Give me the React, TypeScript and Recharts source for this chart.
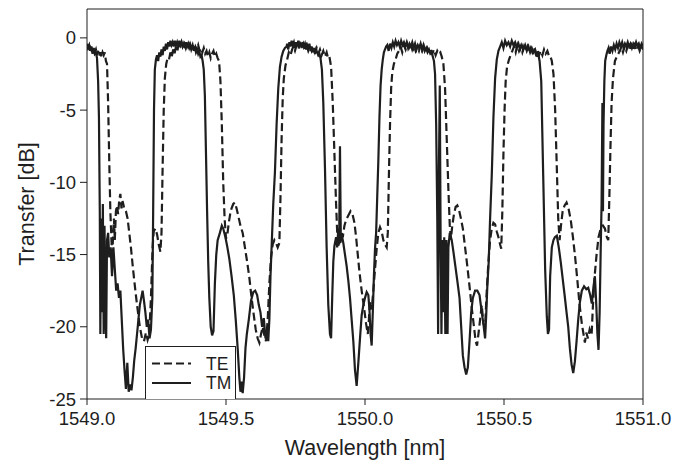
import { LineChart, Line, XAxis, YAxis, ReferenceLine, Legend } from 'recharts'

const X_TICKS = [1549, 1549.5, 1550, 1550.5, 1551]
const Y_TICKS = [0, -5, -10, -15, -20, -25]

// [wavelength nm, transfer dB]
const TE: [number, number][] = [
  [1549.000, -0.5], [1549.004, -0.8], [1549.008, -0.4], [1549.012, -0.9], [1549.016, -0.6], [1549.020, -1.1],
  [1549.024, -0.7], [1549.028, -1.0], [1549.032, -0.8], [1549.036, -1.2], [1549.040, -0.9], [1549.044, -1.3],
  [1549.048, -1.0], [1549.052, -1.3], [1549.056, -1.0], [1549.060, -1.2], [1549.064, -1.0], [1549.068, -1.6],
  [1549.072, -1.8], [1549.076, -4.5], [1549.080, -8.5], [1549.084, -12], [1549.088, -14.0], [1549.091, -15.3],
  [1549.094, -13.5], [1549.097, -12.5], [1549.100, -14.0], [1549.104, -12.0], [1549.108, -11.6], [1549.112, -12.2],
  [1549.116, -11.2], [1549.120, -10.8], [1549.124, -11.8], [1549.128, -11.3], [1549.134, -11.8], [1549.140, -12.0],
  [1549.146, -12.5], [1549.152, -13.5], [1549.158, -14.5], [1549.164, -15.7], [1549.170, -16.8], [1549.180, -18.5],
  [1549.190, -20.0], [1549.198, -20.8], [1549.205, -21.0], [1549.212, -20.4], [1549.218, -20.9], [1549.224, -20.5],
  [1549.230, -18], [1549.236, -14.5], [1549.240, -13.4], [1549.246, -13.2], [1549.252, -13.6], [1549.258, -14.3],
  [1549.264, -14.8], [1549.268, -13.5], [1549.272, -9], [1549.276, -5], [1549.280, -2.8], [1549.285, -1.8],
  [1549.290, -1.4], [1549.295, -1.5], [1549.300, -1.0], [1549.305, -1.3], [1549.310, -0.8], [1549.315, -1.1],
  [1549.320, -0.6], [1549.325, -0.9], [1549.330, -0.4], [1549.335, -0.7], [1549.340, -0.3], [1549.345, -0.6],
  [1549.350, -0.4], [1549.355, -0.7], [1549.360, -0.3], [1549.365, -0.6], [1549.370, -0.4], [1549.375, -0.8],
  [1549.380, -0.5], [1549.385, -0.9], [1549.390, -0.6], [1549.395, -0.8], [1549.400, -0.5], [1549.405, -0.9],
  [1549.410, -0.7], [1549.415, -1.0], [1549.420, -0.7], [1549.425, -1.1], [1549.430, -0.9], [1549.435, -1.3],
  [1549.440, -1.0], [1549.445, -1.4], [1549.450, -1.1], [1549.455, -0.9], [1549.460, -1.3], [1549.465, -1.1],
  [1549.470, -1.4], [1549.475, -1.6], [1549.480, -3.0], [1549.485, -6], [1549.490, -10], [1549.495, -12.5],
  [1549.500, -13.9], [1549.505, -13.6], [1549.510, -12.8], [1549.515, -12.2], [1549.520, -11.8], [1549.526, -11.5],
  [1549.532, -11.4], [1549.538, -11.8], [1549.545, -12.4], [1549.552, -13.0], [1549.560, -13.5], [1549.568, -14.5],
  [1549.576, -15.5], [1549.584, -16.6], [1549.592, -18.0], [1549.600, -19.2], [1549.607, -20.2], [1549.614, -20.8],
  [1549.620, -21.1], [1549.626, -20.5], [1549.632, -20.0], [1549.638, -20.6], [1549.644, -21.0], [1549.650, -19.5],
  [1549.656, -17.0], [1549.662, -15.2], [1549.668, -14.3], [1549.674, -14.0], [1549.680, -14.2], [1549.686, -14.5],
  [1549.692, -14.2], [1549.696, -11], [1549.700, -7], [1549.704, -4.2], [1549.708, -2.8], [1549.714, -1.9],
  [1549.720, -1.5], [1549.726, -1.0], [1549.732, -1.2], [1549.738, -0.8], [1549.742, -0.6], [1549.748, -0.9],
  [1549.754, -0.5], [1549.760, -0.8], [1549.766, -0.4], [1549.772, -0.7], [1549.778, -0.4], [1549.784, -0.8],
  [1549.790, -0.5], [1549.796, -0.9], [1549.802, -0.6], [1549.808, -0.9], [1549.814, -0.6], [1549.820, -1.0],
  [1549.826, -0.7], [1549.832, -1.1], [1549.838, -0.8], [1549.844, -1.2], [1549.850, -0.9], [1549.856, -1.3],
  [1549.862, -1.0], [1549.867, -1.4], [1549.872, -1.3], [1549.878, -2.0], [1549.884, -4.5], [1549.890, -8],
  [1549.896, -11.5], [1549.900, -13.5], [1549.904, -14.5], [1549.908, -13.2], [1549.912, -14.3], [1549.916, -13.4],
  [1549.920, -13.8], [1549.926, -13.0], [1549.932, -12.6], [1549.940, -12.3], [1549.948, -12.0], [1549.955, -12.2],
  [1549.962, -12.8], [1549.968, -13.8], [1549.974, -15.0], [1549.980, -16.2], [1549.988, -17.5], [1549.996, -18.6],
  [1550.004, -19.8], [1550.010, -20.5], [1550.014, -19.5], [1550.018, -18.2], [1550.024, -18.8], [1550.030, -17.5],
  [1550.036, -16.0], [1550.042, -14.6], [1550.048, -13.5], [1550.054, -13.1], [1550.060, -13.4], [1550.066, -14.0],
  [1550.072, -14.3], [1550.078, -14.5], [1550.082, -13.5], [1550.086, -9.5], [1550.090, -6.0], [1550.094, -3.5],
  [1550.098, -2.4], [1550.104, -1.8], [1550.110, -1.5], [1550.116, -1.1], [1550.122, -0.9], [1550.128, -0.6],
  [1550.134, -1.0], [1550.140, -0.5], [1550.146, -0.8], [1550.152, -0.4], [1550.158, -0.7], [1550.164, -0.4],
  [1550.170, -0.8], [1550.176, -0.5], [1550.182, -0.9], [1550.188, -0.6], [1550.194, -0.9], [1550.200, -0.5],
  [1550.206, -0.9], [1550.212, -0.6], [1550.218, -1.0], [1550.224, -0.7], [1550.230, -1.0], [1550.236, -0.8],
  [1550.242, -1.1], [1550.248, -0.8], [1550.254, -1.2], [1550.260, -0.9], [1550.266, -1.1], [1550.271, -1.0],
  [1550.276, -1.3], [1550.282, -1.8], [1550.288, -3.5], [1550.294, -7], [1550.300, -10.5], [1550.305, -13.0],
  [1550.309, -13.9], [1550.314, -13.0], [1550.320, -12.2], [1550.326, -11.7], [1550.332, -11.6], [1550.338, -11.9],
  [1550.345, -12.5], [1550.352, -13.2], [1550.360, -14.5], [1550.368, -15.8], [1550.376, -17.2], [1550.384, -18.7],
  [1550.392, -20.0], [1550.398, -21.0], [1550.403, -21.3], [1550.408, -20.5], [1550.414, -19.5], [1550.420, -18.5],
  [1550.426, -19.8], [1550.432, -20.0], [1550.438, -17.5], [1550.444, -15.5], [1550.450, -14.0], [1550.456, -13.2],
  [1550.462, -12.8], [1550.468, -12.9], [1550.474, -13.4], [1550.480, -13.8], [1550.486, -14.3], [1550.490, -14.6],
  [1550.494, -12], [1550.498, -8], [1550.502, -5], [1550.506, -3], [1550.511, -2.0], [1550.518, -1.5],
  [1550.524, -1.2], [1550.530, -0.9], [1550.536, -0.6], [1550.542, -1.0], [1550.548, -0.5], [1550.554, -0.9],
  [1550.560, -0.6], [1550.566, -1.0], [1550.572, -0.6], [1550.578, -0.9], [1550.584, -0.6], [1550.590, -1.0],
  [1550.596, -0.7], [1550.602, -1.0], [1550.608, -0.7], [1550.614, -1.1], [1550.620, -0.8], [1550.626, -1.2],
  [1550.632, -0.9], [1550.638, -1.2], [1550.644, -0.8], [1550.650, -1.1], [1550.656, -0.9], [1550.661, -1.2],
  [1550.666, -1.2], [1550.672, -1.6], [1550.678, -2.5], [1550.684, -5], [1550.690, -9], [1550.695, -12.5],
  [1550.700, -14.0], [1550.705, -13.0], [1550.711, -12.0], [1550.718, -11.6], [1550.725, -11.4], [1550.732, -11.8],
  [1550.740, -12.6], [1550.748, -13.8], [1550.756, -15.2], [1550.764, -16.8], [1550.772, -18.5], [1550.780, -19.8],
  [1550.786, -20.5], [1550.791, -21.1], [1550.796, -20.4], [1550.802, -20.8], [1550.808, -20.2], [1550.815, -20.6],
  [1550.820, -18.5], [1550.826, -16.5], [1550.833, -15.0], [1550.840, -13.8], [1550.848, -13.2], [1550.856, -13.0],
  [1550.863, -13.2], [1550.870, -13.8], [1550.875, -14.0], [1550.879, -11], [1550.883, -7.5], [1550.887, -4.5],
  [1550.892, -2.8], [1550.899, -1.6], [1550.908, -1.2], [1550.917, -0.9], [1550.922, -0.6], [1550.928, -1.0],
  [1550.934, -0.6], [1550.940, -0.9], [1550.946, -0.5], [1550.952, -0.8], [1550.958, -0.5], [1550.964, -0.9],
  [1550.970, -0.5], [1550.976, -0.8], [1550.982, -0.5], [1550.988, -0.9], [1550.994, -0.6], [1551.000, -0.8],
]

const TM: [number, number][] = [
  [1549.000, -0.4], [1549.004, -0.7], [1549.008, -0.5], [1549.012, -0.9], [1549.016, -0.6], [1549.020, -1.0],
  [1549.024, -0.7], [1549.028, -1.1], [1549.032, -1.0], [1549.036, -1.4], [1549.040, -3.0], [1549.043, -5.5],
  [1549.046, -12], [1549.048, -20.5], [1549.051, -12.5], [1549.054, -19], [1549.057, -11.5], [1549.060, -20.5],
  [1549.063, -13], [1549.066, -18.5], [1549.069, -20.8], [1549.072, -14], [1549.076, -13.5], [1549.080, -15.2],
  [1549.085, -14.5], [1549.090, -16.5], [1549.095, -14.5], [1549.100, -16], [1549.105, -17.5], [1549.110, -17],
  [1549.115, -18], [1549.120, -17.5], [1549.125, -19.5], [1549.130, -21.5], [1549.135, -23], [1549.140, -24.3],
  [1549.145, -22.5], [1549.150, -24.5], [1549.155, -24.0], [1549.160, -24.4], [1549.165, -23.5], [1549.170, -22.3],
  [1549.175, -21.5], [1549.180, -20.5], [1549.185, -19.5], [1549.190, -18.5], [1549.195, -18.0], [1549.200, -17.5],
  [1549.205, -18.2], [1549.210, -19.0], [1549.215, -20.0], [1549.220, -19.5], [1549.225, -20.8], [1549.230, -20.2],
  [1549.235, -18], [1549.238, -12], [1549.241, -5], [1549.244, -2.2], [1549.248, -1.5], [1549.252, -1.2],
  [1549.256, -1.6], [1549.260, -1.0], [1549.264, -1.3], [1549.268, -0.8], [1549.272, -1.2], [1549.276, -0.6],
  [1549.280, -0.9], [1549.284, -0.4], [1549.288, -0.8], [1549.292, -0.3], [1549.296, -0.6], [1549.300, -0.2],
  [1549.304, -0.5], [1549.308, -0.3], [1549.312, -0.6], [1549.316, -0.2], [1549.320, -0.5], [1549.324, -0.3],
  [1549.328, -0.6], [1549.332, -0.2], [1549.336, -0.5], [1549.340, -0.3], [1549.344, -0.6], [1549.348, -0.4],
  [1549.352, -0.7], [1549.356, -0.3], [1549.360, -0.6], [1549.364, -0.4], [1549.368, -0.7], [1549.372, -0.5],
  [1549.376, -0.8], [1549.380, -0.5], [1549.384, -0.9], [1549.388, -0.6], [1549.392, -1.0], [1549.396, -0.8],
  [1549.400, -1.1], [1549.404, -0.9], [1549.408, -1.3], [1549.412, -1.2], [1549.416, -1.6], [1549.420, -2.2],
  [1549.424, -4], [1549.428, -8], [1549.432, -12], [1549.436, -15.5], [1549.440, -18], [1549.445, -20],
  [1549.450, -20.6], [1549.455, -20.3], [1549.460, -17], [1549.465, -15], [1549.470, -14], [1549.478, -13.5],
  [1549.485, -13.0], [1549.490, -13.2], [1549.498, -13.8], [1549.505, -14.5], [1549.512, -15.3], [1549.520, -16.5],
  [1549.528, -17.8], [1549.535, -19.5], [1549.542, -21.5], [1549.548, -23.5], [1549.552, -24.5], [1549.556, -23.8],
  [1549.560, -24.6], [1549.565, -23.5], [1549.570, -21.5], [1549.575, -20.5], [1549.582, -19.5], [1549.590, -18.2],
  [1549.598, -17.6], [1549.605, -17.5], [1549.612, -17.8], [1549.618, -18.5], [1549.624, -19.0], [1549.630, -20.0],
  [1549.636, -19.4], [1549.642, -20.8], [1549.648, -20.2], [1549.652, -21.0], [1549.656, -19.5], [1549.660, -16.5],
  [1549.664, -14.5], [1549.670, -11.5], [1549.676, -9.3], [1549.682, -6.0], [1549.688, -3.5], [1549.694, -2.0],
  [1549.700, -1.3], [1549.706, -0.9], [1549.712, -0.7], [1549.718, -0.6], [1549.720, -0.4], [1549.724, -0.8],
  [1549.728, -0.3], [1549.732, -0.6], [1549.736, -0.2], [1549.740, -0.5], [1549.744, -0.3], [1549.748, -0.7],
  [1549.752, -0.3], [1549.756, -0.6], [1549.760, -0.2], [1549.764, -0.5], [1549.768, -0.4], [1549.772, -0.7],
  [1549.776, -0.3], [1549.780, -0.6], [1549.784, -0.4], [1549.788, -0.8], [1549.792, -0.5], [1549.796, -0.7],
  [1549.800, -0.4], [1549.804, -0.9], [1549.808, -0.6], [1549.812, -1.0], [1549.816, -0.7], [1549.820, -1.1],
  [1549.824, -0.8], [1549.828, -1.0], [1549.832, -1.2], [1549.836, -1.1], [1549.840, -1.4], [1549.845, -2.2],
  [1549.850, -4.5], [1549.856, -9], [1549.862, -14.5], [1549.868, -18.5], [1549.874, -20.5], [1549.878, -20.8],
  [1549.882, -18], [1549.886, -15.5], [1549.890, -14.4], [1549.896, -13.8], [1549.900, -14.5], [1549.904, -13.2],
  [1549.907, -14.3], [1549.910, -7.5], [1549.913, -14.0], [1549.916, -13.6], [1549.922, -14.2], [1549.928, -15.0],
  [1549.934, -15.8], [1549.940, -16.8], [1549.946, -18.0], [1549.952, -19.5], [1549.958, -21.0], [1549.964, -23.0],
  [1549.970, -24.1], [1549.976, -22.5], [1549.982, -20.8], [1549.988, -19.2], [1549.994, -18.5], [1550.000, -18.0],
  [1550.006, -17.6], [1550.012, -17.8], [1550.016, -18.8], [1550.020, -20.5], [1550.024, -21.3], [1550.028, -19],
  [1550.032, -16.5], [1550.036, -14.6], [1550.040, -13.5], [1550.044, -11], [1550.048, -8.5], [1550.052, -5.5],
  [1550.056, -3.3], [1550.060, -2.2], [1550.064, -1.5], [1550.068, -1.0], [1550.072, -0.8], [1550.076, -0.6],
  [1550.080, -0.5], [1550.085, -0.9], [1550.090, -0.4], [1550.095, -0.7], [1550.100, -0.3], [1550.105, -0.6],
  [1550.110, -0.2], [1550.115, -0.5], [1550.120, -0.3], [1550.125, -0.6], [1550.130, -0.2], [1550.135, -0.5],
  [1550.140, -0.3], [1550.145, -0.6], [1550.150, -0.3], [1550.155, -0.7], [1550.160, -0.4], [1550.165, -0.6],
  [1550.170, -0.3], [1550.175, -0.7], [1550.180, -0.4], [1550.185, -0.8], [1550.190, -0.5], [1550.195, -0.7],
  [1550.200, -0.4], [1550.205, -0.8], [1550.210, -0.5], [1550.215, -0.9], [1550.220, -0.7], [1550.225, -1.0],
  [1550.230, -0.8], [1550.235, -1.1], [1550.240, -1.0], [1550.244, -1.3], [1550.248, -1.6], [1550.252, -2.5],
  [1550.256, -6], [1550.260, -12.5], [1550.263, -20.5], [1550.266, -9], [1550.269, -3.3], [1550.272, -14],
  [1550.275, -20.5], [1550.278, -14], [1550.281, -19], [1550.285, -13.8], [1550.289, -20.5], [1550.293, -14],
  [1550.297, -20.5], [1550.300, -14.5], [1550.305, -13.5], [1550.312, -14.0], [1550.318, -14.8], [1550.325, -15.8],
  [1550.332, -16.8], [1550.340, -18.0], [1550.346, -20], [1550.352, -22], [1550.358, -22.8], [1550.364, -23.3],
  [1550.370, -22.8], [1550.376, -21], [1550.382, -19], [1550.388, -18.0], [1550.396, -17.5], [1550.404, -17.5],
  [1550.412, -17.8], [1550.420, -19.0], [1550.426, -19.8], [1550.432, -20.8], [1550.436, -19.2], [1550.440, -17.2],
  [1550.445, -15.5], [1550.450, -12.5], [1550.456, -9.5], [1550.462, -5.5], [1550.468, -2.8], [1550.474, -1.5],
  [1550.480, -0.9], [1550.486, -0.6], [1550.492, -0.3], [1550.498, -0.7], [1550.504, -0.2], [1550.510, -0.5],
  [1550.516, -0.3], [1550.522, -0.6], [1550.528, -0.2], [1550.534, -0.5], [1550.540, -0.3], [1550.546, -0.7],
  [1550.552, -0.4], [1550.558, -0.8], [1550.564, -0.5], [1550.570, -0.8], [1550.576, -0.5], [1550.582, -0.9],
  [1550.588, -0.6], [1550.594, -1.0], [1550.600, -0.7], [1550.606, -1.0], [1550.612, -0.8], [1550.618, -1.2],
  [1550.623, -1.1], [1550.628, -1.6], [1550.634, -3], [1550.641, -9.5], [1550.648, -16], [1550.654, -19.3],
  [1550.658, -20.5], [1550.662, -20.2], [1550.666, -16.5], [1550.672, -14.5], [1550.678, -14.0], [1550.683, -13.8],
  [1550.690, -13.7], [1550.697, -14.5], [1550.704, -15.5], [1550.710, -16.5], [1550.718, -17.8], [1550.725, -19.0],
  [1550.731, -20.0], [1550.737, -21.5], [1550.743, -22.6], [1550.749, -23.2], [1550.755, -22.4], [1550.761, -21],
  [1550.767, -19.5], [1550.773, -18.3], [1550.780, -17.5], [1550.788, -17.2], [1550.796, -17.4], [1550.803, -17.3],
  [1550.810, -17.8], [1550.816, -18.4], [1550.822, -17.2], [1550.827, -16.5], [1550.832, -18.5], [1550.836, -20.5],
  [1550.840, -21.6], [1550.844, -19], [1550.848, -14.5], [1550.851, -11.5], [1550.854, -4.5], [1550.856, -12],
  [1550.858, -6.0], [1550.861, -3], [1550.864, -1.6], [1550.868, -1.2], [1550.872, -0.9], [1550.876, -0.7],
  [1550.880, -1.1], [1550.885, -0.6], [1550.890, -0.9], [1550.895, -0.5], [1550.900, -0.8], [1550.905, -0.4],
  [1550.910, -0.7], [1550.915, -0.3], [1550.920, -0.6], [1550.925, -0.3], [1550.930, -0.7], [1550.935, -0.4],
  [1550.940, -0.6], [1550.945, -0.3], [1550.950, -0.6], [1550.955, -0.4], [1550.960, -0.7], [1550.965, -0.4],
  [1550.970, -0.6], [1550.975, -0.3], [1550.980, -0.6], [1550.985, -0.4], [1550.990, -0.7], [1550.995, -0.4],
  [1551.000, -0.6],
]

const teData = TE.map(([x, y]) => ({ x, y }))
const tmData = TM.map(([x, y]) => ({ x, y }))

const INK = '#1e1e1e'
const FONT = 'Arial, "Liberation Sans", Helvetica, sans-serif'

function PolLegend({ payload }: any) {
  return (
    <div style={{ width: 91, height: 53, boxSizing: 'border-box', border: `1px solid ${INK}`, borderBottom: 'none', background: '#fff' }}>
      <svg width={89} height={52} style={{ display: 'block' }}>
        {(payload || []).map((p: any, i: number) => (
          <g key={p.value}>
            <line x1={6} x2={45} y1={16.5 + i * 19.5} y2={16.5 + i * 19.5} stroke={INK} strokeWidth={2}
              strokeDasharray={p.payload?.strokeDasharray} />
            <text x={60} y={22.5 + i * 19.5} fontSize={17.5} fill={INK} fontFamily={FONT}>{p.value}</text>
          </g>
        ))}
      </svg>
    </div>
  )
}

export default function App() {
  return (
    <div style={{ position: 'absolute', left: 0, top: 0, width: 684, height: 465, background: '#fff', fontFamily: FONT }}>
      <LineChart width={684} height={465} margin={{ top: 9, right: 41, bottom: 0, left: 0 }}>
        <XAxis
          type="number"
          dataKey="x"
          domain={[1549, 1551]}
          ticks={X_TICKS}
          allowDataOverflow
          tickFormatter={(v: number) => v.toFixed(1)}
          height={66}
          tickSize={6}
          tickMargin={7}
          stroke={INK}
          tick={{ fill: INK, fontSize: 18.5 }}
          label={{ value: 'Wavelength [nm]', position: 'insideBottom', offset: 10, fill: INK, fontSize: 21.5 }}
        />
        <YAxis
          type="number"
          dataKey="y"
          domain={[-25, 2]}
          ticks={Y_TICKS}
          allowDataOverflow
          width={87}
          tickSize={7}
          tickMargin={4}
          stroke={INK}
          tick={{ fill: INK, fontSize: 18.5 }}
          label={{ value: 'Transfer [dB]', angle: -90, position: 'insideLeft', offset: 26, fill: INK, fontSize: 21.5, style: { textAnchor: 'middle' } }}
        />
        <ReferenceLine y={2} stroke={INK} strokeWidth={1} />
        <ReferenceLine x={1551} stroke={INK} strokeWidth={1} />
        <Line data={teData} dataKey="y" name="TE" type="linear" stroke={INK} strokeWidth={2.2} strokeDasharray="8 4"
          dot={false} isAnimationActive={false} />
        <Line data={tmData} dataKey="y" name="TM" type="linear" stroke={INK} strokeWidth={2.2}
          dot={false} isAnimationActive={false} />
        <Legend
          layout="horizontal"
          verticalAlign="middle"
          align="center"
          content={<PolLegend />}
          wrapperStyle={{ position: 'absolute', left: 145, top: 346, width: 91, height: 53 }}
        />
      </LineChart>
    </div>
  )
}
